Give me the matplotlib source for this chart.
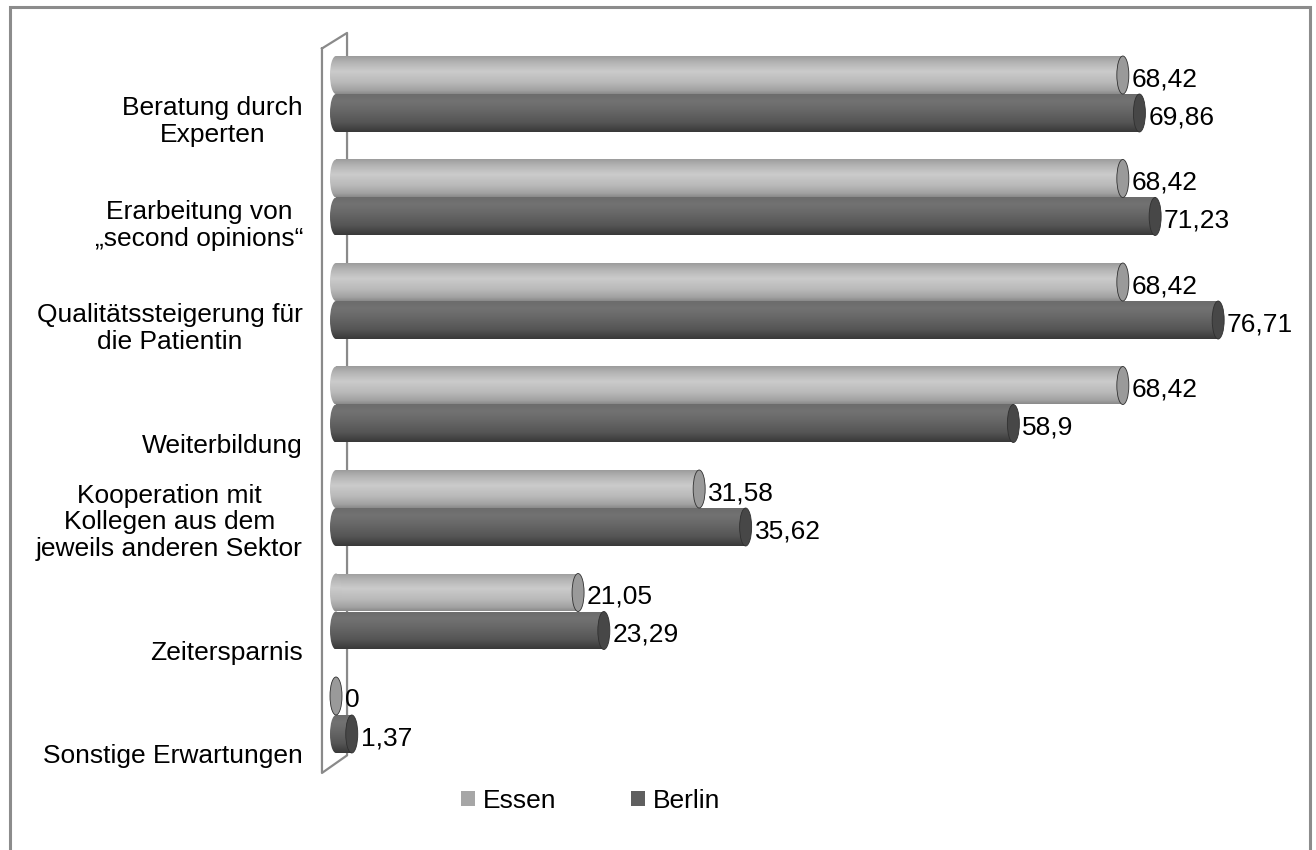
import matplotlib
matplotlib.use("Agg")
import numpy as np
import matplotlib.pyplot as plt
from matplotlib.patches import Ellipse, Rectangle, Patch
from matplotlib.colors import LinearSegmentedColormap

plt.rcParams["font.family"] = ["Liberation Sans", "DejaVu Sans"]

# -------------------------------------------------
# Daten
# -------------------------------------------------
kategorien = [
    "Beratung durch\nExperten",
    "Erarbeitung von\n\u201esecond opinions\u201c",
    "Qualitätssteigerung für\ndie Patientin",
    "Weiterbildung",
    "Kooperation mit\nKollegen aus dem\njeweils anderen Sektor",
    "Zeitersparnis",
    "Sonstige Erwartungen",
]
essen = [68.42, 68.42, 68.42, 68.42, 31.58, 21.05, 0]
berlin = [69.86, 71.23, 76.71, 58.9, 35.62, 23.29, 1.37]
serien = ["Essen", "Berlin"]

# -------------------------------------------------
# Layout (Pixelraster 1316x850)
# -------------------------------------------------
W, H, DPI = 1316, 850, 100
X0_PX, PX_X = 336, 11.5          # Nullpunkt und Pixel pro Prozentpunkt
Y0_PX, PX_Y = 94, 103.5          # Mitte der ersten Gruppe, Gruppenabstand
BAR_H = 38 / PX_Y                # Höhe eines Zylinders
CAP_W = 12 / PX_X                # Breite der Ellipse am Zylinderende
FS = 19

# Farbverläufe der Zylinder (oben -> unten)
grad_essen = LinearSegmentedColormap.from_list(
    "essen", [(0, "#9c9c9c"), (0.15, "#b2b2b2"), (0.4, "#cbcbcb"),
              (0.7, "#b9b9b9"), (0.9, "#a2a2a2"), (1, "#8a8a8a")])
grad_berlin = LinearSegmentedColormap.from_list(
    "berlin", [(0, "#6c6c6c"), (0.2, "#727272"), (0.45, "#666666"),
               (0.75, "#555555"), (1, "#383838")])
cap_farben = {"Essen": "#9a9a9a", "Berlin": "#474747"}
legend_farben = {"Essen": "#a6a6a6", "Berlin": "#5f5f5f"}


def fmt_de(v):
    return f"{v:g}".replace(".", ",")


def zylinder(ax, rect, cmap, cap_color):
    """Gradient im Balken + runde Enden."""
    x1 = rect.get_x() + rect.get_width()
    yb, h = rect.get_y(), rect.get_height()
    grad = np.linspace(0, 1, 128).reshape(-1, 1)
    ext = (-CAP_W, max(x1, 0.01), yb + h, yb)

    left = Ellipse((0, yb + h / 2), CAP_W, h, transform=ax.transData)
    for clip in (rect, left):
        im = ax.imshow(grad, cmap=cmap, aspect="auto", extent=ext,
                       interpolation="bilinear", zorder=3)
        im.set_clip_path(clip)

    cap = Ellipse((x1, yb + h / 2), CAP_W, h, facecolor=cap_color,
                  edgecolor="#303030", linewidth=0.6, zorder=4)
    ax.add_patch(cap)


fig = plt.figure(figsize=(W / DPI, H / DPI), dpi=DPI)
ax = fig.add_axes([0, 0, 1, 1])
ax.set_xlim(-X0_PX / PX_X, (W - X0_PX) / PX_X)
ax.set_ylim((H - Y0_PX) / PX_Y, -Y0_PX / PX_Y)
ax.axis("off")

y = np.arange(len(kategorien))

# Rückwand (3D-Optik)
wall_x = [-1.22, -1.22, 0.96, 0.96, -1.22]
wall_y = [-0.44, 6.56, 6.39, -0.59, -0.44]
ax.plot(wall_x, wall_y, color="#8a8a8a", linewidth=1.6, zorder=1)

bars_e = ax.barh(y - BAR_H / 2, essen, height=BAR_H, color="none", zorder=2)
bars_b = ax.barh(y + BAR_H / 2, berlin, height=BAR_H, color="none", zorder=2)

for rect in bars_b:
    zylinder(ax, rect, grad_berlin, cap_farben["Berlin"])
for rect in bars_e:
    zylinder(ax, rect, grad_essen, cap_farben["Essen"])

# Werte an den Balkenenden
for bars, werte in ((bars_e, essen), (bars_b, berlin)):
    for rect, v in zip(bars, werte):
        yc = rect.get_y() + rect.get_height() / 2
        ax.text(v + CAP_W / 2 + 0.25, yc + 0.04, fmt_de(v), fontsize=FS,
                ha="left", va="center", zorder=5)

# Kategorien links
for i, lab in enumerate(kategorien):
    ax.text((303 - X0_PX) / PX_X, i + 0.515, lab, fontsize=FS, ha="right",
            va="bottom", multialignment="center", linespacing=1.15)

# Legende
handles = [Patch(facecolor=legend_farben[s], edgecolor="none") for s in serien]
fig.legend(handles, serien, loc="center left", ncol=2, frameon=False,
           bbox_to_anchor=(461 / W, 1 - 801 / H), fontsize=FS,
           handlelength=0.52, handleheight=0.52, handletextpad=0.3,
           columnspacing=2.85, borderpad=0, borderaxespad=0)

# Rahmen um das Diagramm (unten abgeschnitten)
fig.add_artist(Rectangle((10 / W, -0.1), 1300 / W, 1.1 - 7 / H,
                         transform=fig.transFigure, fill=False,
                         edgecolor="#8c8c8c", linewidth=2.2, clip_on=False))

fig.savefig("out.png", dpi=DPI, facecolor="white")
